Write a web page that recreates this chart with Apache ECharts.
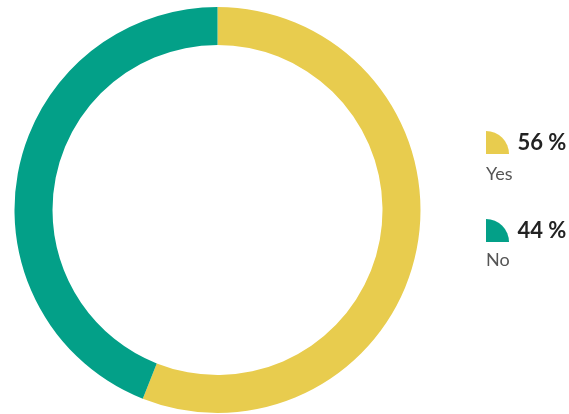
<!DOCTYPE html>
<html>
<head>
<meta charset="utf-8">
<script src="https://cdn.jsdelivr.net/npm/echarts@6/dist/echarts.min.js"></script>
<style>
  html, body { margin: 0; padding: 0; background: #fff; }
  #chart { width: 569px; height: 414px; }
</style>
</head>
<body>
<div id="chart"></div>
<script>
// Answer categories and their shares (percent)
const answers = ['Yes', 'No'];
const shares = [56, 44];
const colors = ['#E8CC4E', '#03A088'];

// Quarter-disc marker used in the legend
const quarterIcon = 'path://M0,0 A1,1 0 0 1 1,1 L0,1 Z';

const chart = echarts.init(document.getElementById('chart'), null, { renderer: 'canvas' });

const pieData = answers.map((name, i) => ({
  name: name,
  value: shares[i],
  itemStyle: { color: colors[i] }
}));

const commonLegend = {
  orient: 'vertical',
  padding: 0,
  itemWidth: 24,
  itemHeight: 23,
  itemGap: 65,
  selectedMode: false,
  data: answers
};

chart.setOption({
  animation: false,
  legend: [
    Object.assign({}, commonLegend, {
      left: 486,
      top: 131,
      icon: quarterIcon,
      formatter: name => shares[answers.indexOf(name)] + ' %',
      textStyle: {
        fontFamily: 'Lato',
        fontSize: 22,
        fontWeight: 'bold',
        color: '#222',
        padding: [2, 0, 0, 3]
      }
    }),
    Object.assign({}, commonLegend, {
      left: 457,
      top: 163,
      icon: 'none',
      textStyle: {
        fontFamily: 'Lato',
        fontSize: 18,
        color: '#555'
      }
    })
  ],
  series: [{
    type: 'pie',
    center: [217.5, 210],
    radius: [165, 203],
    startAngle: 90,
    clockwise: true,
    label: { show: false },
    labelLine: { show: false },
    emphasis: { disabled: true },
    itemStyle: { borderWidth: 0 },
    data: pieData
  }]
});
</script>
</body>
</html>
